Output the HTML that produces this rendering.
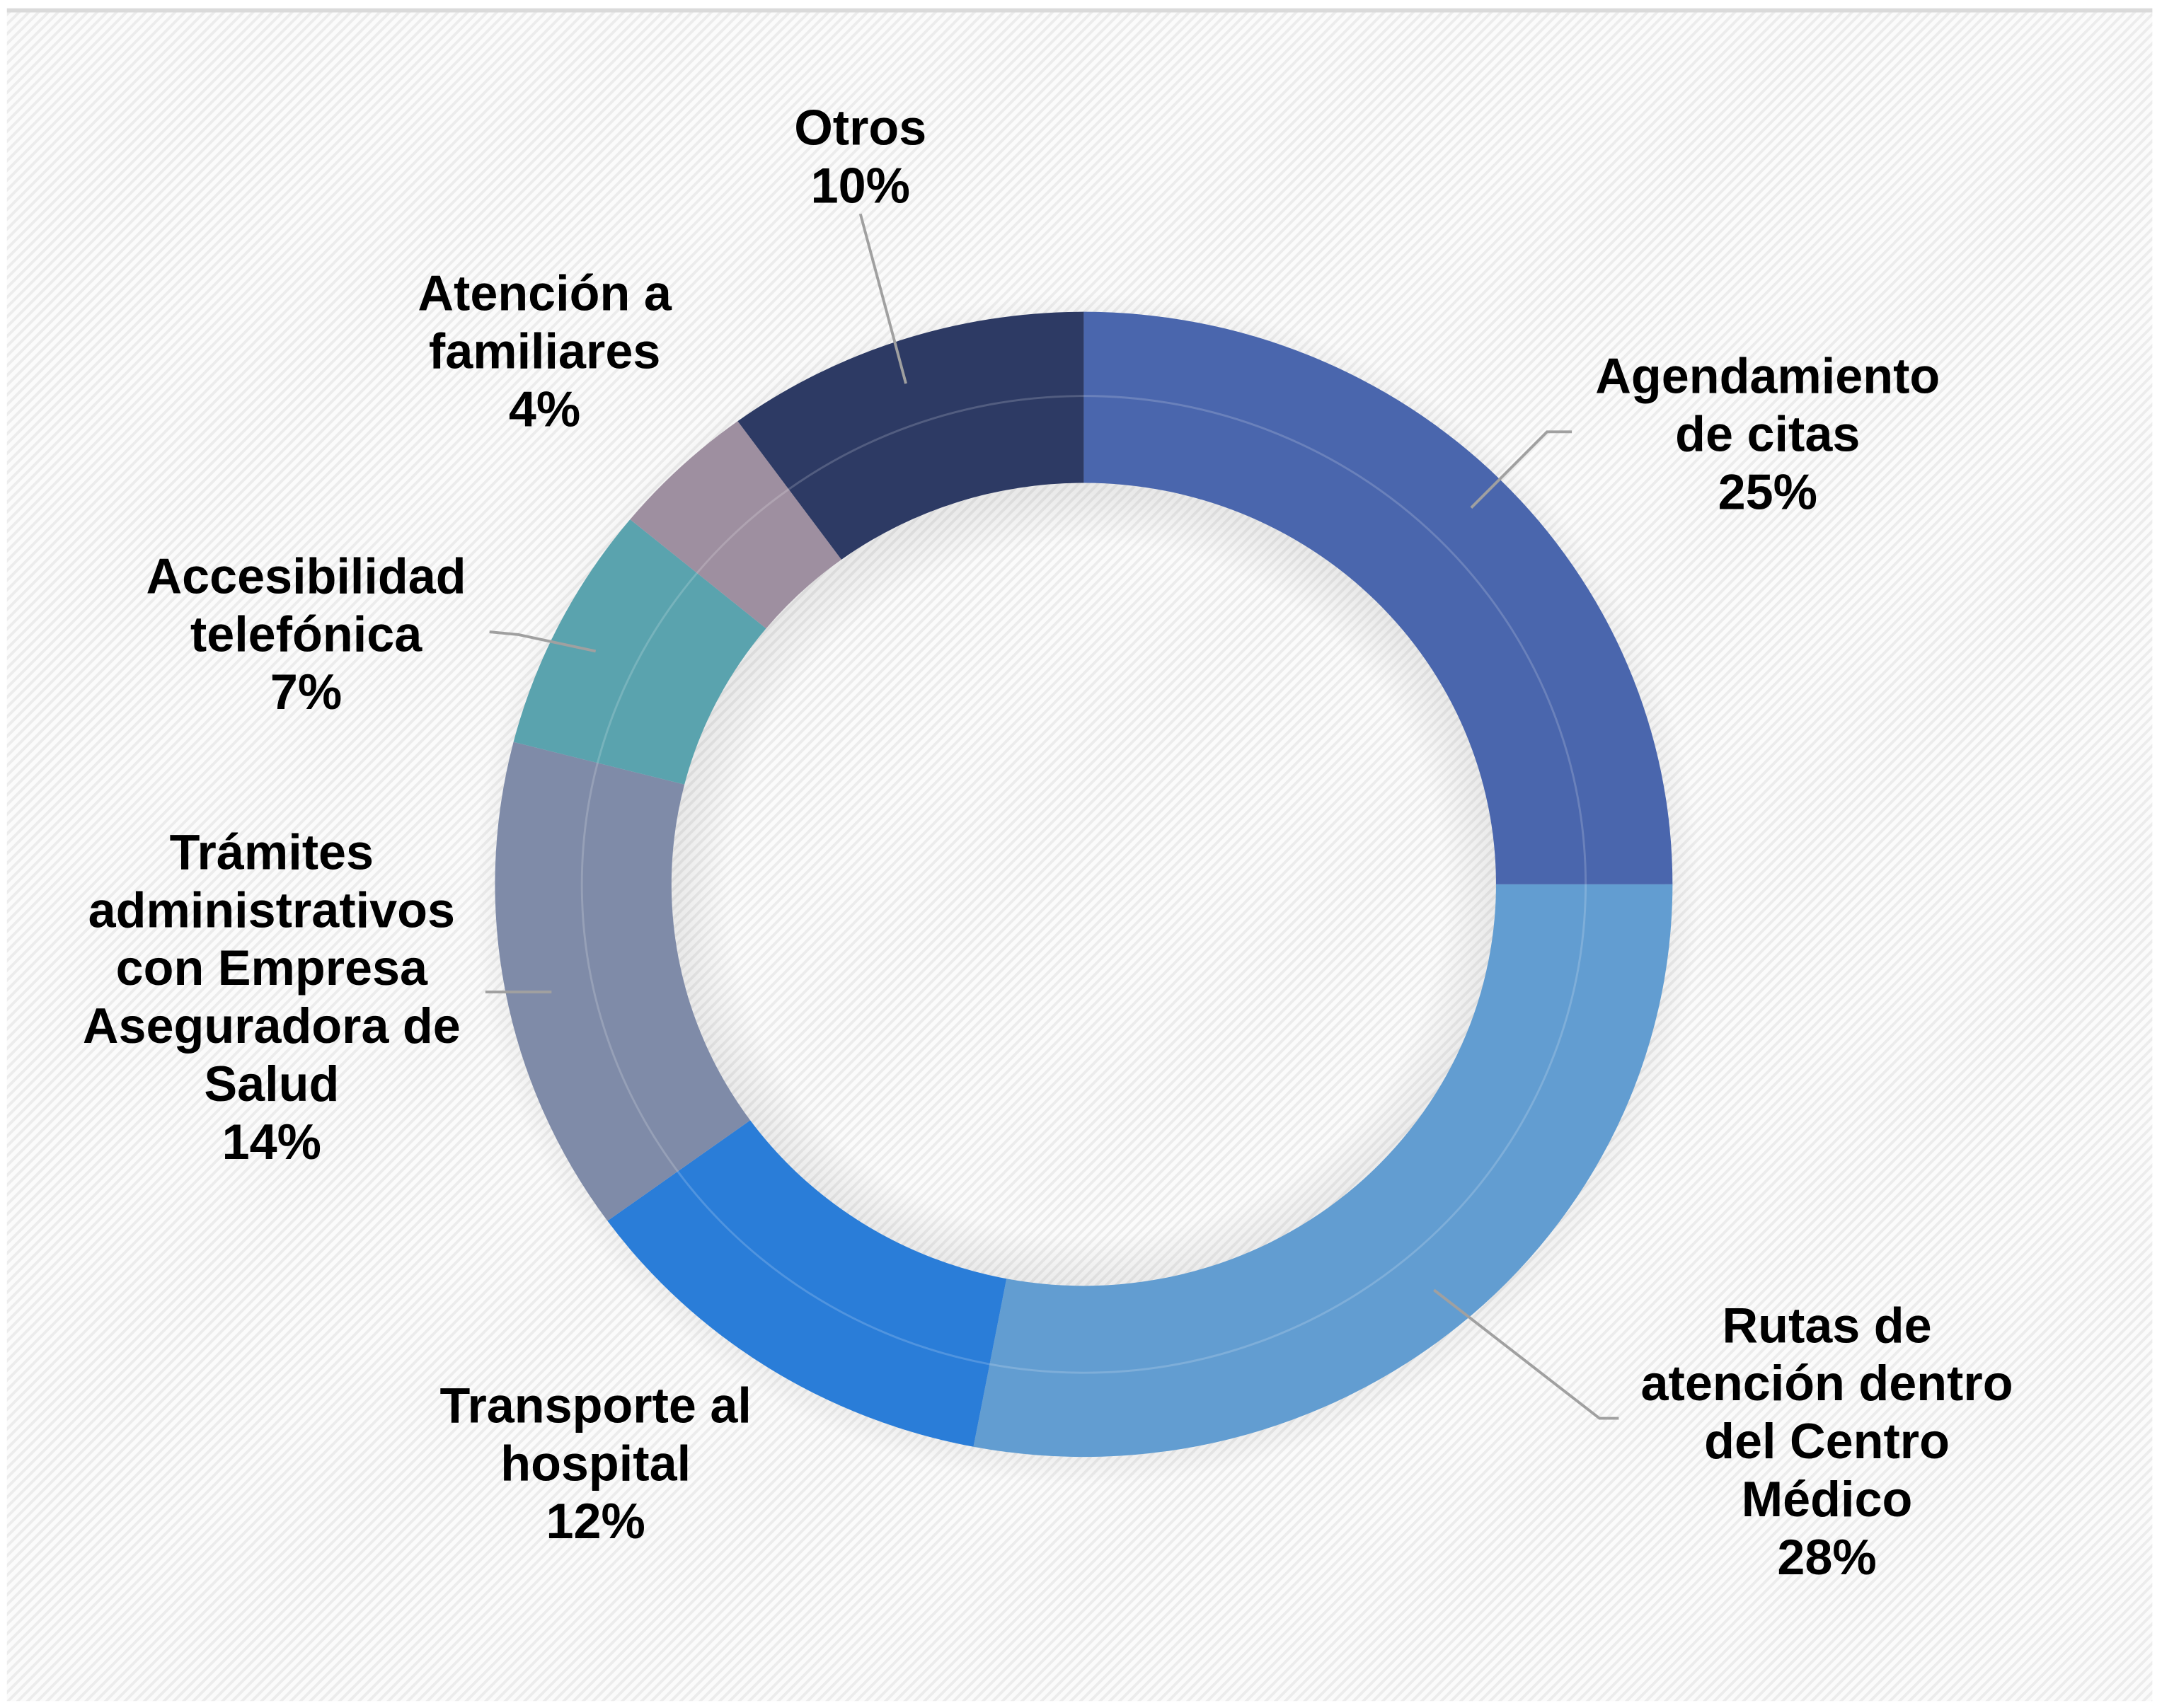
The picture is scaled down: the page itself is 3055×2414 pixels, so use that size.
<!DOCTYPE html>
<html><head><meta charset="utf-8"><style>
html,body{margin:0;padding:0;background:#fff}
svg{display:block}
text{font-family:"Liberation Sans",Arial,sans-serif;font-weight:bold;font-size:36px;fill:#000;text-anchor:middle}
</style></head><body>
<svg id="chart" width="3055" height="2414" viewBox="0 0 1568 1238" preserveAspectRatio="none" xmlns="http://www.w3.org/2000/svg">
<defs>
<pattern id="hatch" width="5" height="5" patternUnits="userSpaceOnUse" patternTransform="rotate(45)">
<rect width="5" height="5" fill="#fbfbfb"/><rect width="2" height="5" fill="#ececec"/>
</pattern>
<radialGradient id="shadow" cx="0.5" cy="0.5" r="0.5">
<stop offset="0" stop-color="#000" stop-opacity="0"/>
<stop offset="0.58" stop-color="#000" stop-opacity="0"/>
<stop offset="0.67" stop-color="#000" stop-opacity="0.07"/>
<stop offset="0.9" stop-color="#000" stop-opacity="0.1"/>
<stop offset="1" stop-color="#000" stop-opacity="0"/>
</radialGradient>
</defs>
<rect x="5" y="7" width="1556" height="1226" fill="url(#hatch)"/>
<rect x="5" y="6" width="1556" height="3" fill="#dadada"/>
<ellipse cx="788" cy="645" rx="445" ry="432" fill="url(#shadow)"/>
<g id="slices"></g>
<ellipse cx="786" cy="641" rx="364" ry="354" fill="none" stroke="#ffffff" stroke-opacity="0.18" stroke-width="1.5"/>
<g id="leaders" stroke="#a0a0a0" stroke-width="2" fill="none">
<polyline points="624,155 657,278"/>
<polyline points="1140,313 1122,313 1067,368"/>
<polyline points="355,458 376,460 432,472"/>
<polyline points="352,719 400,719"/>
<polyline points="1174,1028 1160,1028 1040,935"/>
</g>
<g id="labels"></g>
</svg>
<script>
const categories = ["Agendamiento de citas","Rutas de atención dentro del Centro Médico","Transporte al hospital","Trámites administrativos con Empresa Aseguradora de Salud","Accesibilidad telefónica","Atención a familiares","Otros"];
const values = [25, 28, 12, 14, 7, 4, 10];
const colors = ["#4a66ad","#629dd1","#2a7dd8","#7f8ba8","#5aa3ae","#9e8fa0","#2d3a64"];
const labelLines = [["Agendamiento","de citas"],["Rutas de","atención dentro","del Centro","Médico"],["Transporte al","hospital"],["Trámites","administrativos","con Empresa","Aseguradora de","Salud"],["Accesibilidad","telefónica"],["Atención a","familiares"],["Otros"]];
const labelAnchors = [[1282,285],[1325,973],[432,1031],[197,630],[222,430],[395,225],[624,105]];

const NS="http://www.w3.org/2000/svg";
const cx=786, cy=641, rxO=427, ryO=415, rxI=299, ryI=291;
const total=values.reduce((a,b)=>a+b,0);
function pt(a,rx,ry){return [cx+rx*Math.sin(a), cy-ry*Math.cos(a)];}
const gS=document.getElementById('slices');
let acc=0;
values.forEach((v,i)=>{
  const a0=acc/total*2*Math.PI; acc+=v; const a1=acc/total*2*Math.PI;
  const large=(a1-a0)>Math.PI?1:0;
  const p0=pt(a0,rxO,ryO),p1=pt(a1,rxO,ryO),q1=pt(a1,rxI,ryI),q0=pt(a0,rxI,ryI);
  const d=`M${p0} A${rxO} ${ryO} 0 ${large} 1 ${p1} L${q1} A${rxI} ${ryI} 0 ${large} 0 ${q0} Z`;
  const p=document.createElementNS(NS,'path');
  p.setAttribute('d',d); p.setAttribute('fill',colors[i]);
  
  
  gS.appendChild(p);
});
const gL=document.getElementById('labels');
categories.forEach((c,i)=>{
  const t=document.createElementNS(NS,'text');
  
  
  const [x,y]=labelAnchors[i];
  const lines=labelLines[i].concat([Math.round(values[i]/total*100)+'%']);
  lines.forEach((ln,j)=>{
    const s=document.createElementNS(NS,'tspan');
    s.setAttribute('x',x); s.setAttribute('y',y+j*42);
    s.textContent=ln; t.appendChild(s);
  });
  gL.appendChild(t);
});
</script>
</body></html>
